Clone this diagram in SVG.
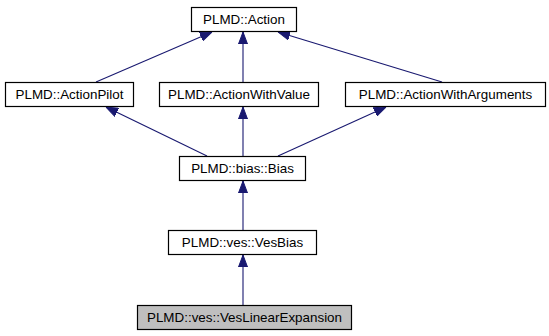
<svg xmlns="http://www.w3.org/2000/svg" width="549" height="336" viewBox="0 0 549 336">
  <style>
    .box { fill: #ffffff; stroke: #000000; stroke-width: 1.2; }
    .cur { fill: #bfbfbf; stroke: #000000; stroke-width: 1.2; }
    .lbl { font-family: "Liberation Sans", Arial, sans-serif; font-size: 13.4px; fill: #000000; text-anchor: middle; }
    .edge { stroke: #191970; stroke-width: 1.1; fill: none; }
  </style>
  <defs>
    <marker id="inherit" viewBox="0 0 12 10" refX="12" refY="5" markerWidth="12" markerHeight="10" markerUnits="userSpaceOnUse" orient="auto">
      <path d="M0,0.5 L12,5 L0,9.5 Z" fill="#191970" stroke="#191970" stroke-width="1"/>
    </marker>
  </defs>
  <rect width="549" height="336" fill="#ffffff"/>

  <g id="edges">
    <line class="edge" x1="96" y1="82" x2="212" y2="32" marker-end="url(#inherit)"/>
    <line class="edge" x1="243" y1="82" x2="243" y2="32" marker-end="url(#inherit)"/>
    <line class="edge" x1="442" y1="82" x2="278" y2="32" marker-end="url(#inherit)"/>
    <line class="edge" x1="207" y1="156" x2="106" y2="107" marker-end="url(#inherit)"/>
    <line class="edge" x1="243" y1="156" x2="243" y2="107" marker-end="url(#inherit)"/>
    <line class="edge" x1="278" y1="156" x2="386" y2="107" marker-end="url(#inherit)"/>
    <line class="edge" x1="243" y1="230" x2="243" y2="181" marker-end="url(#inherit)"/>
    <line class="edge" x1="243" y1="305" x2="243" y2="255" marker-end="url(#inherit)"/>
  </g>

  <g id="node-action">
    <rect class="box" x="191.5" y="7.5" width="105" height="24"/>
    <text class="lbl" x="244" y="24">PLMD::Action</text>
  </g>
  <g id="node-actionpilot">
    <rect class="box" x="5.5" y="82.5" width="128" height="24"/>
    <text class="lbl" x="69.5" y="99">PLMD::ActionPilot</text>
  </g>
  <g id="node-actionwithvalue">
    <rect class="box" x="159.5" y="82.5" width="159" height="24"/>
    <text class="lbl" x="239" y="99">PLMD::ActionWithValue</text>
  </g>
  <g id="node-actionwitharguments">
    <rect class="box" x="345.5" y="82.5" width="200" height="24"/>
    <text class="lbl" x="445.5" y="99">PLMD::ActionWithArguments</text>
  </g>
  <g id="node-bias">
    <rect class="box" x="179.5" y="156.5" width="126" height="24"/>
    <text class="lbl" x="242.5" y="173">PLMD::bias::Bias</text>
  </g>
  <g id="node-vesbias">
    <rect class="box" x="168.5" y="230.5" width="148" height="24"/>
    <text class="lbl" x="242.5" y="247">PLMD::ves::VesBias</text>
  </g>
  <g id="node-veslinearexpansion">
    <rect class="cur" x="137.5" y="305.5" width="214" height="24"/>
    <text class="lbl" x="244.5" y="322">PLMD::ves::VesLinearExpansion</text>
  </g>
</svg>
